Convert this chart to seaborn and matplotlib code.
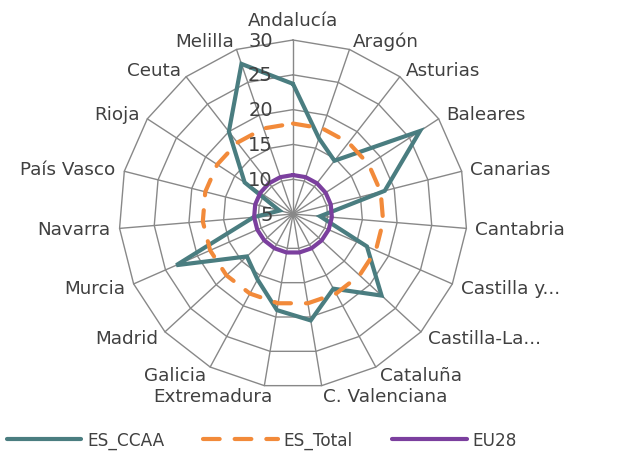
import numpy as np
import matplotlib
matplotlib.use("Agg")
import matplotlib.pyplot as plt
import seaborn as sns

# datos
regiones = ["Andalucía", "Aragón", "Asturias", "Baleares", "Canarias", "Cantabria",
            "Castilla y...", "Castilla-La...", "Cataluña", "C. Valenciana", "Extremadura",
            "Galicia", "Madrid", "Murcia", "Navarra", "País Vasco", "Rioja", "Ceuta", "Melilla"]
es_ccaa = [23.7, 16.5, 14.7, 26.8, 18.6, 8.9, 16.6, 22.3, 17.2, 20.5,
           19.0, 15.7, 14.0, 23.3, 10.7, 7.0, 13.3, 20.0, 27.8]
es_total = [18.0, 18.0, 18.0, 18.0, 18.0, 18.0, 18.0, 18.0, 18.0, 18.0,
            18.0, 18.0, 18.0, 18.0, 18.0, 18.0, 18.0, 18.0, 18.0]
eu28 = [10.6, 10.6, 10.6, 10.6, 10.6, 10.6, 10.6, 10.6, 10.6, 10.6,
        10.6, 10.6, 10.6, 10.6, 10.6, 10.6, 10.6, 10.6, 10.6]
anillos = [10, 15, 20, 25, 30]
r_min, r_max = 5, 30

# estilo
sns.set_style("white")
plt.rcParams["font.family"] = ["DejaVu Sans"]
texto = "#404040"
rejilla = "#888888"
fs = 13.2

n = len(regiones)
ang = np.linspace(0, 2 * np.pi, n, endpoint=False)
ang_c = np.append(ang, 2 * np.pi)

fig = plt.figure(figsize=(6.21, 4.52), dpi=100)
ax = fig.add_axes([0.1916, 0.1393, 0.5604, 0.770], projection="polar")
ax.set_theta_zero_location("N")
ax.set_theta_direction(-1)
ax.set_ylim(r_min, r_max)
ax.set_xticks([])
ax.set_yticks([])
ax.grid(False)
ax.spines["polar"].set_visible(False)

# rejilla poligonal
for r in anillos:
    ax.plot(ang_c, [r] * (n + 1), color=rejilla, lw=1, zorder=1, clip_on=False)
for a in ang:
    ax.plot([a, a], [r_min, r_max], color=rejilla, lw=1, zorder=1, clip_on=False)

# series
series = [("ES_CCAA", es_ccaa, "#4A7D80"),
          ("ES_Total", es_total, "#F28A3A"),
          ("EU28", eu28, "#7B3F9E")]
for nombre, vals, col in series:
    sns.lineplot(x=ang_c, y=np.append(vals, vals[0]), ax=ax, color=col, lw=3,
                 label=nombre, sort=False, estimator=None, zorder=3)
    ln = ax.lines[-1]
    ln.set_solid_capstyle("round")
    ln.set_solid_joinstyle("miter")
    if nombre == "ES_Total":
        ln.set_dashes((4, 3.6))
        ln.set_dash_capstyle("round")
ax.get_legend().remove()
ax.set_xlabel("")
ax.set_ylabel("")

# etiquetas de categorias
pad = 6.5
for a, lab in zip(ang, regiones):
    s, c = np.sin(a), np.cos(a)
    ha = "left" if s > 0.15 else ("right" if s < -0.15 else "center")
    dx, dy = pad * s, pad * c
    if c > 0.99:
        va, dy = "bottom", 8
    elif c < -0.9:
        va, dy = "top", -1
        if s < 0:
            dx = 6
    else:
        va = "center"
    ax.annotate(lab, xy=(a, r_max), xytext=(dx, dy), textcoords="offset points",
                ha=ha, va=va, fontsize=fs, color=texto, annotation_clip=False)

# etiquetas del eje radial
for r in [5] + anillos:
    ax.annotate(str(r), xy=(0, r), xytext=(-14.5, 0), textcoords="offset points",
                ha="right", va="center", fontsize=14, color=texto, annotation_clip=False)

h, l = ax.get_legend_handles_labels()
fig.legend(h, l, loc="center left", bbox_to_anchor=(0.0, 0.025), ncol=3, frameon=False,
           handlelength=4.4, columnspacing=2.3, handletextpad=0.35, fontsize=12.2,
           borderaxespad=0, labelcolor=texto)

fig.savefig("out.png", dpi=100)
